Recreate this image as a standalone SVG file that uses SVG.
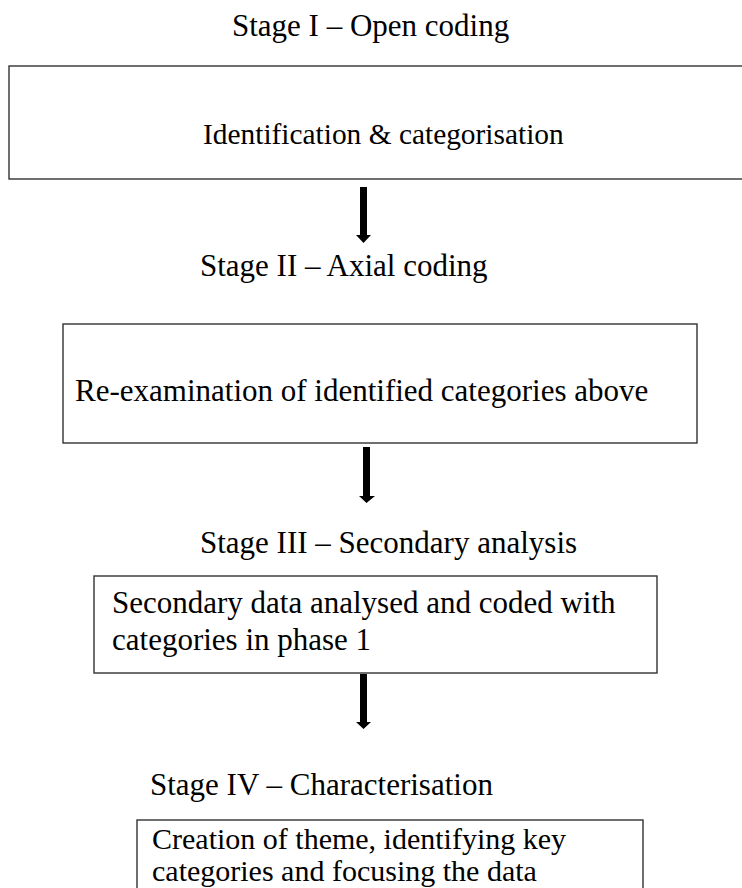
<svg xmlns="http://www.w3.org/2000/svg" width="742" height="888" viewBox="0 0 742 888">
<style>
text{font-family:"Liberation Serif","Times New Roman",serif;font-size:31px;fill:#000}
.box{fill:#fff;stroke:#333;stroke-width:1.4}
.arrow{fill:#000}
.small{font-size:30px}
</style>
<rect width="742" height="888" fill="#fff"/>
<g id="title1"><text x="232" y="36">Stage I – Open coding</text></g>
<g id="node1"><rect class="box" x="9" y="66" width="745" height="113"/><text x="203" y="144" style="font-size:29.4px">Identification &amp; categorisation</text></g>
<g id="title2"><text x="200" y="276">Stage II – Axial coding</text></g>
<g id="node2"><rect class="box" x="63" y="324" width="634" height="119"/><text x="75" y="401">Re-examination of identified categories above</text></g>
<g id="title3"><text x="200" y="553">Stage III – Secondary analysis</text></g>
<g id="node3"><rect class="box" x="94" y="576" width="563" height="97"/><text x="112" y="613">Secondary data analysed and coded with</text><text x="112" y="650">categories in phase 1</text></g>
<g id="title4"><text x="150" y="795">Stage IV – Characterisation</text></g>
<g id="node4"><rect class="box" x="137" y="820" width="506" height="80"/><text class="small" x="152" y="849">Creation of theme, identifying key</text><text class="small" x="152" y="881">categories and focusing the data</text></g>
<g id="connectors">
<polygon class="arrow" points="360,187 367,187 367,235 371,235 363.5,243 356,235 360,235"/>
<polygon class="arrow" points="363,447 370,447 370,496 375,496 366.5,503 359,496 363,496"/>
<polygon class="arrow" points="360,674 367,674 367,722 371,722 363.5,729 356,722 360,722"/>
</g>
</svg>
